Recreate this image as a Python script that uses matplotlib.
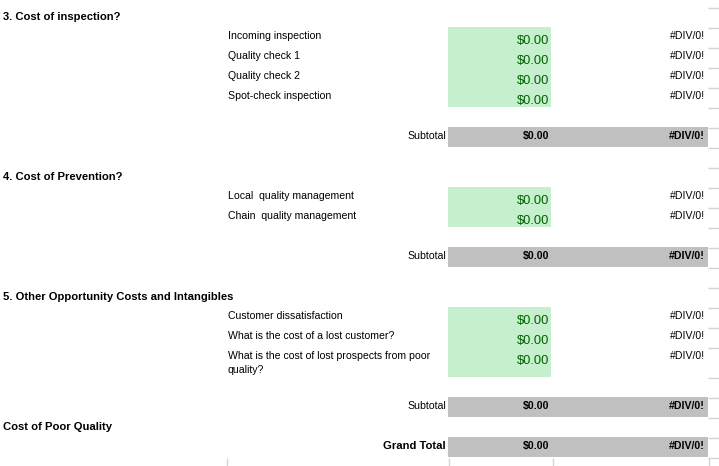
import matplotlib
matplotlib.use("Agg")
import matplotlib.pyplot as plt
from matplotlib.patches import Rectangle

# ---- data ----
section_titles = ["3. Cost of inspection?", "4. Cost of Prevention?",
                  "5. Other Opportunity Costs and Intangibles"]
inspection_items = ["Incoming inspection", "Quality check 1", "Quality check 2",
                    "Spot-check inspection"]
prevention_items = ["Local  quality management", "Chain  quality management"]
other_items = ["Customer dissatisfaction", "What is the cost of a lost customer?",
               "What is the cost of lost prospects from poor\nquality?"]
inspection_values = ["$0.00", "$0.00", "$0.00", "$0.00"]
prevention_values = ["$0.00", "$0.00"]
other_values = ["$0.00", "$0.00", "$0.00"]
inspection_pct = ["#DIV/0!", "#DIV/0!", "#DIV/0!", "#DIV/0!"]
prevention_pct = ["#DIV/0!", "#DIV/0!"]
other_pct = ["#DIV/0!", "#DIV/0!", "#DIV/0!"]
subtotal_values = ["$0.00", "$0.00", "$0.00"]
subtotal_pct = ["#DIV/0!", "#DIV/0!", "#DIV/0!"]
summary_title = "Cost of Poor Quality"
grand_total_label = "Grand Total"
grand_total_value = "$0.00"
grand_total_pct = "#DIV/0!"

W, H = 719, 466
fig = plt.figure(figsize=(W / 100, H / 100), dpi=100)
ax = fig.add_axes([0, 0, 1, 1])
ax.set_xlim(0, W)
ax.set_ylim(H, 0)
ax.axis("off")

FONT = "Liberation Sans"
FS = 7.6
FS_TITLE = 8.15
GREEN_BG = "#C6EFCE"
GREEN_FG = "#006100"
GRAY = "#C0C0C0"
GRID = "#D4D4D4"

X_TITLE = 3
X_LABEL = 228
X_BOX0, X_BOX1 = 448, 708
X_VAL_END = 549
X_PCT_END = 705
X_GREEN_END = 551


def txt(x, y, s, ha="left", bold=False, color="black", size=FS, ls=1.25):
    ax.text(x, y, s, ha=ha, va="baseline", fontsize=size, family=FONT,
            fontweight="bold" if bold else "normal", color=color,
            linespacing=ls)


def section(top, title, items, values, pcts, heights):
    txt(X_TITLE, top + 12.5, title, bold=True, size=FS_TITLE)
    y = top + 20
    y0 = y
    for lab, v, p, h in zip(items, values, pcts, heights):
        if "\n" in lab:
            first, second = lab.split("\n")
            txt(X_LABEL, y + 12.3, first)
            txt(X_LABEL, y + 26, second)
        else:
            txt(X_LABEL, y + 12.3, lab)
        txt(X_PCT_END, y + 12.3, p, ha="right")
        txt(X_VAL_END, y + 17.2, v, ha="right", color=GREEN_FG, size=9.3)
        y += h
    ax.add_patch(Rectangle((X_BOX0, y0), X_GREEN_END - X_BOX0, y - y0,
                           facecolor=GREEN_BG, edgecolor="none", zorder=0))
    return y


def total_row(top, label, value, pct, bold_label=False):
    ax.add_patch(Rectangle((X_BOX0, top), X_BOX1 - X_BOX0, 20,
                           facecolor=GRAY, edgecolor="none", zorder=0))
    txt(446, top + 12, label, ha="right", bold=bold_label,
        size=FS_TITLE if bold_label else FS)
    txt(X_VAL_END, top + 12, value, ha="right", bold=True)
    txt(X_PCT_END, top + 12, pct, ha="right", bold=True)


end = section(7, section_titles[0], inspection_items, inspection_values,
              inspection_pct, [20] * 4)
total_row(end + 20, "Subtotal", subtotal_values[0], subtotal_pct[0])
end = section(167, section_titles[1], prevention_items, prevention_values,
              prevention_pct, [20] * 2)
total_row(end + 20, "Subtotal", subtotal_values[1], subtotal_pct[1])
end = section(287, section_titles[2], other_items, other_values,
              other_pct, [20, 20, 30])
total_row(end + 20, "Subtotal", subtotal_values[2], subtotal_pct[2])
txt(X_TITLE, 417 + 12.5, summary_title, bold=True, size=FS_TITLE)
total_row(437, grand_total_label, grand_total_value, grand_total_pct,
          bold_label=True)

# right-edge row gridlines
rows = [7, 27, 47, 67, 87, 107, 127, 147, 167, 187, 207, 227, 247, 267,
        287, 307, 327, 347, 377, 397, 417, 437, 457]
for r in rows:
    ax.plot([708, W], [r + 0.5, r + 0.5], color=GRID, lw=1,
            solid_capstyle="butt")
# bottom vertical gridlines
for x in [226, 448, 552, 708]:
    ax.plot([x + 0.5, x + 0.5], [457.5, H], color=GRID, lw=1,
            solid_capstyle="butt")

fig.savefig("out.png", dpi=100)
